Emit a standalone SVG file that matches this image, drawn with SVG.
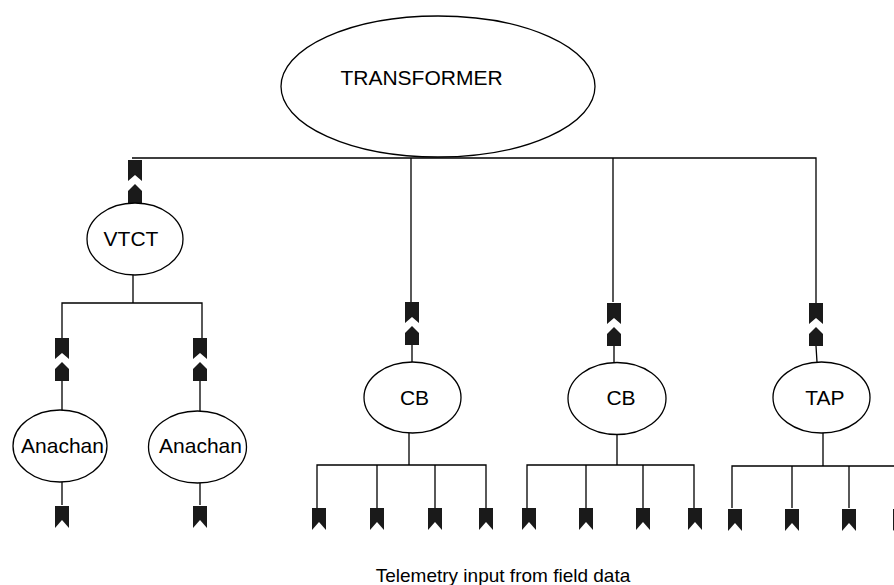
<svg xmlns="http://www.w3.org/2000/svg" xmlns:xlink="http://www.w3.org/1999/xlink" width="894" height="585" viewBox="0 0 894 585">
<style>
.node{fill:#fff;stroke:#000;stroke-width:1.3}
.lbl{font-family:"Liberation Sans",Arial,sans-serif;font-size:21px;fill:#000;text-anchor:middle}
.wire{fill:none;stroke:#000;stroke-width:1.3}
.conn{fill:#1a1a1a;stroke:none}
</style>
<defs>
<g id="dconn">
<polygon class="conn" points="-7,0 7,0 7,21 0,15 -7,21"/>
<polygon class="conn" points="-7,43 -7,31 0,24 7,31 7,43"/>
</g>
<g id="sconn">
<polygon class="conn" points="-7,0 7,0 7,22 0,14 -7,22"/>
</g>
</defs>
<g id="connectors">
<path class="wire" d="M132,158 H816 V303 M411,158 V302 M613,158 V302"/>
<use xlink:href="#dconn" x="135" y="160"/>
<use xlink:href="#dconn" x="412" y="302"/>
<use xlink:href="#dconn" x="614" y="303"/>
<use xlink:href="#dconn" x="816" y="303"/>
<path class="wire" d="M412,345 V362 M614,346 V362 M816,346 L817,362"/>
<path class="wire" d="M133,275 V303 M62,338 V303 H202 V338 M62,380 V410 M200,380 V411"/>
<use xlink:href="#dconn" x="62" y="338"/>
<use xlink:href="#dconn" x="200" y="338"/>
<path class="wire" d="M62,482 V505 M200,483 V505"/>
<use xlink:href="#sconn" x="62" y="506"/>
<use xlink:href="#sconn" x="200" y="506"/>
<path class="wire" d="M409,433 V465 M317,508 V465 H486 V508 M377,465 V508 M435,465 V508"/>
<path class="wire" d="M617,435 V465 M527,508 V465 H694 V508 M586,465 V508 M643,465 V508"/>
<path class="wire" d="M823,433 V466 M732,508 V466 H900 V508 M792,466 V508 M849,466 V508"/>
<use xlink:href="#sconn" x="319" y="508"/>
<use xlink:href="#sconn" x="377" y="508"/>
<use xlink:href="#sconn" x="435" y="508"/>
<use xlink:href="#sconn" x="486" y="508"/>
<use xlink:href="#sconn" x="529" y="508"/>
<use xlink:href="#sconn" x="586" y="508"/>
<use xlink:href="#sconn" x="643" y="508"/>
<use xlink:href="#sconn" x="695" y="508"/>
<use xlink:href="#sconn" x="735" y="509"/>
<use xlink:href="#sconn" x="792" y="509"/>
<use xlink:href="#sconn" x="849" y="509"/>
<use xlink:href="#sconn" x="900" y="509"/>
</g>
<g id="transformer">
<ellipse class="node" cx="438" cy="86.5" rx="157" ry="70.5"/>
<text class="lbl" x="421.5" y="85">TRANSFORMER</text>
</g>
<g id="vtct">
<ellipse class="node" cx="135" cy="239" rx="48" ry="36"/>
<text class="lbl" x="131" y="246">VTCT</text>
</g>
<g id="anachan1">
<ellipse class="node" cx="60" cy="446" rx="47" ry="36"/>
<text class="lbl" x="62.5" y="453">Anachan</text>
</g>
<g id="anachan2">
<ellipse class="node" cx="197.5" cy="447" rx="49" ry="36"/>
<text class="lbl" x="200.5" y="453">Anachan</text>
</g>
<g id="cb1">
<ellipse class="node" cx="412.5" cy="397.5" rx="48.5" ry="35.5"/>
<text class="lbl" x="414.5" y="405">CB</text>
</g>
<g id="cb2">
<ellipse class="node" cx="617" cy="398.5" rx="49" ry="36"/>
<text class="lbl" x="621" y="405">CB</text>
</g>
<g id="tap">
<ellipse class="node" cx="821.5" cy="397.5" rx="48.5" ry="35.5"/>
<text class="lbl" x="825" y="405">TAP</text>
</g>
<text class="lbl" style="font-size:19px" x="503" y="582">Telemetry input from field data</text>
</svg>
